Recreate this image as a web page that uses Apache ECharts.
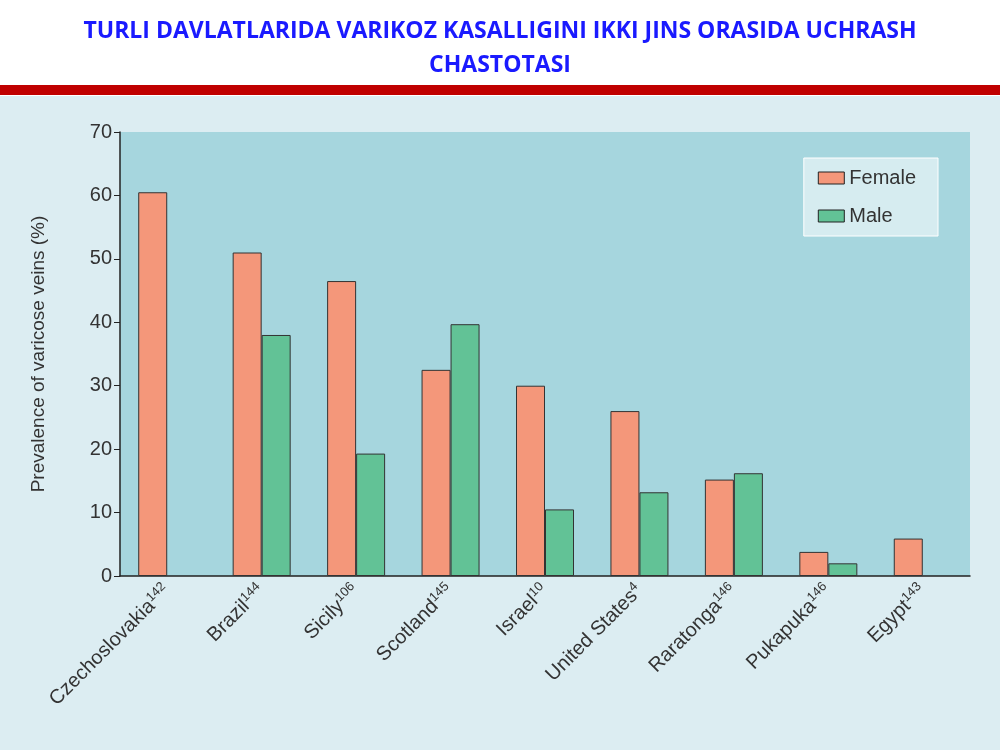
<!DOCTYPE html>
<html><head><meta charset="utf-8">
<script src="https://cdn.jsdelivr.net/npm/echarts@6/dist/echarts.min.js"></script>
<style>
body{margin:0;background:#fff;}
#main{width:1000px;height:750px;}
</style></head>
<body><div id="main"></div>
<script>
// data
const countries = ['Czechoslovakia', 'Brazil', 'Sicily', 'Scotland', 'Israel', 'United States', 'Raratonga', 'Pukapuka', 'Egypt'];
const refs = ['142', '144', '106', '145', '10', '4', '146', '146', '143'];
const female = [60.5, 51, 46.5, 32.5, 30, 26, 15.2, 3.8, 5.9];
const male = [null, 38, 19.3, 39.7, 10.5, 13.2, 16.2, 2, null];

let chart = echarts.init(document.getElementById('main'));
let option = {
  backgroundColor: '#fff',
  graphic: [
    { type: 'rect', shape: { x: 0, y: 96, width: 1000, height: 654 }, style: { fill: '#dcedf2' }, z: -10 },
    { type: 'rect', shape: { x: 0, y: 85, width: 1000, height: 10 }, style: { fill: '#c00000' } },
    { type: 'text', x: 500, y: 14, style: {
        text: 'TURLI DAVLATLARIDA VARIKOZ KASALLIGINI IKKI JINS ORASIDA UCHRASH\nCHASTOTASI',
        fill: '#1a1aff', font: 'bold 23px "Open Sans", sans-serif', align: 'center', lineHeight: 34 } }
  ],
  grid: { left: 120, right: 30, top: 132, bottom: 174, show: true, backgroundColor: '#a6d6de', borderWidth: 0 },
  legend: {
    data: ['Female', 'Male'], orient: 'vertical', right: 62, top: 158, icon: 'rect',
    backgroundColor: '#d6ecf0', borderColor: '#fff', borderWidth: 1, padding: [10, 22, 10, 14],
    itemWidth: 26, itemHeight: 12, itemGap: 18,
    itemStyle: { borderColor: '#222', borderWidth: 1 },
    textStyle: { fontSize: 20, color: '#333', fontFamily: 'Liberation Sans' }
  },
  xAxis: {
    type: 'category', data: countries,
    axisLine: { lineStyle: { color: '#222', width: 1.5 } },
    axisTick: { length: 6, lineStyle: { color: '#222' } },
    axisLabel: {
      rotate: 45, interval: 0, margin: 12,
      formatter: (v, i) => '{n|' + v + '}{s|' + refs[i] + '}',
      rich: {
        n: { fontSize: 20, color: '#333', fontFamily: 'Liberation Sans' },
        s: { fontSize: 13, color: '#333', fontFamily: 'Liberation Sans', verticalAlign: 'top', padding: [0, 0, 10, 0] }
      }
    }
  },
  yAxis: {
    type: 'value', min: 0, max: 70, interval: 10,
    name: 'Prevalence of varicose veins (%)', nameLocation: 'middle', nameGap: 72,
    nameTextStyle: { fontSize: 19, color: '#333', fontFamily: 'Liberation Sans' },
    axisLine: { show: true, lineStyle: { color: '#222', width: 1.5 } },
    axisTick: { show: true, length: 6, lineStyle: { color: '#222' } },
    splitLine: { show: false },
    axisLabel: { fontSize: 20, color: '#333', fontFamily: 'Liberation Sans' }
  },
  series: [
    { name: 'Female', type: 'bar', data: female, barWidth: 29, barGap: '0%',
      itemStyle: { color: '#f4977a', borderColor: '#333', borderWidth: 1 } },
    { name: 'Male', type: 'bar', data: male, barWidth: 29,
      itemStyle: { color: '#62c296', borderColor: '#333', borderWidth: 1 } }
  ]
};
chart.setOption(option);
</script></body></html>
